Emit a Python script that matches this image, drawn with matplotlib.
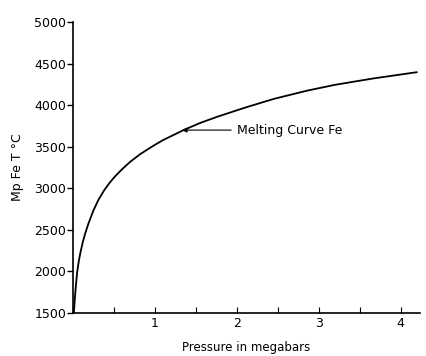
import matplotlib.pyplot as plt
from matplotlib.ticker import MultipleLocator

# melting curve of iron, read point by point
pressure_mbar = [0.01, 0.02, 0.03, 0.05, 0.07, 0.09, 0.12, 0.15, 0.19, 0.25,
                 0.31, 0.38, 0.45, 0.52, 0.60, 0.70, 0.82, 0.97, 1.10, 1.35,
                 1.55, 1.76, 2.10, 2.45, 2.86, 3.20, 3.67, 4.20]
temp_c = [1500, 1640, 1770, 1985, 2120, 2225, 2355, 2460, 2580, 2735,
          2860, 2975, 3070, 3150, 3230, 3320, 3410, 3505, 3580, 3700,
          3785, 3860, 3970, 4075, 4175, 4245, 4322, 4397]

y_ticks = [1500, 2000, 2500, 3000, 3500, 4000, 4500, 5000]
x_ticks = [1, 2, 3, 4]
label_text = "Melting Curve Fe"

plt.rcParams['font.family'] = ['DejaVu Sans']

fig = plt.figure(figsize=(4.27, 3.56), dpi=100)
ax = fig.add_axes([0.171, 0.121, 0.813, 0.817])

ax.plot(pressure_mbar, temp_c, color='black', lw=1.3,
        solid_capstyle='round', solid_joinstyle='round')

ax.set_xlim(0, 4.24)
ax.set_ylim(1500, 5000)

for side in ('top', 'right'):
    ax.spines[side].set_visible(False)
for side in ('left', 'bottom'):
    ax.spines[side].set_linewidth(1.2)

ax.set_yticks(y_ticks)
ax.set_xticks(x_ticks)
ax.xaxis.set_minor_locator(MultipleLocator(0.5))
ax.tick_params(axis='y', direction='out', length=4, width=1, labelsize=9, pad=1)
ax.tick_params(axis='x', which='both', direction='in', length=4, width=0.8,
               labelsize=9, pad=3)

ax.set_ylabel("Mp Fe T °C", fontsize=9, labelpad=7)
ax.set_xlabel("Pressure in megabars", fontsize=8.5, labelpad=8)

# arrow pointing at the curve
ax.annotate(label_text, xy=(1.33, 3700), xytext=(2.0, 3700),
            fontsize=9, va='center', ha='left',
            arrowprops=dict(arrowstyle='-|>', color='black', lw=0.8,
                            mutation_scale=7, shrinkA=2, shrinkB=0))

fig.savefig('out.png', dpi=100)
